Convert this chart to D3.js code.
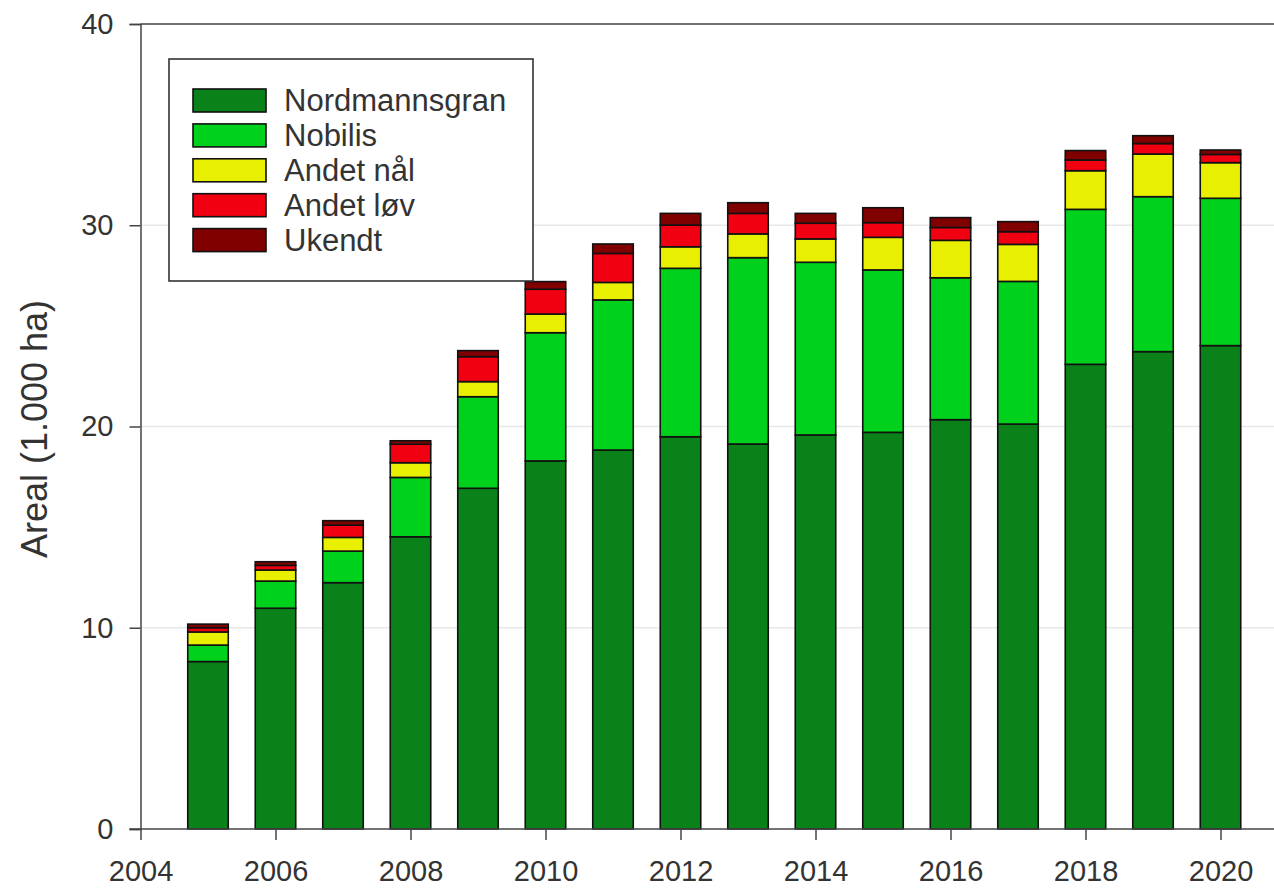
<!DOCTYPE html>
<html>
<head>
<meta charset="utf-8">
<script src="https://cdn.jsdelivr.net/npm/d3@7"></script>
<style>
  html, body { margin: 0; padding: 0; background: #fff; }
  svg { display: block; }
  text { font-family: "Liberation Sans", Arial, sans-serif; fill: #333; }
</style>
</head>
<body>
<svg id="chart" width="1274" height="890"></svg>
<script>
// ---- data ----
const years = [2005, 2006, 2007, 2008, 2009, 2010, 2011, 2012, 2013, 2014, 2015, 2016, 2017, 2018, 2019, 2020];
const seriesNames = ["Nordmannsgran", "Nobilis", "Andet nål", "Andet løv", "Ukendt"];
const nordmannsgran = [8.32, 10.97, 12.24, 14.52, 16.93, 18.29, 18.83, 19.49, 19.13, 19.58, 19.71, 20.34, 20.12, 23.09, 23.72, 24.02];
const nobilis       = [0.82, 1.35, 1.57, 2.95, 4.55, 6.37, 7.46, 8.37, 9.26, 8.58, 8.07, 7.05, 7.09, 7.70, 7.70, 7.32];
const andetNaal     = [0.65, 0.55, 0.68, 0.73, 0.75, 0.93, 0.87, 1.07, 1.18, 1.16, 1.62, 1.86, 1.84, 1.92, 2.12, 1.77];
const andetLoev     = [0.21, 0.23, 0.61, 0.92, 1.24, 1.23, 1.44, 1.08, 1.02, 0.78, 0.73, 0.64, 0.63, 0.53, 0.52, 0.41];
const ukendt        = [0.18, 0.18, 0.22, 0.17, 0.30, 0.38, 0.47, 0.58, 0.53, 0.49, 0.74, 0.49, 0.50, 0.47, 0.39, 0.22];
const xTicks = [2004, 2006, 2008, 2010, 2012, 2014, 2016, 2018, 2020];
const yTicks = [0, 10, 20, 30, 40];
const colors = ["#0b8219", "#00d11c", "#e9ef00", "#f00010", "#800000"];

// ---- build table ----
const seriesValues = [nordmannsgran, nobilis, andetNaal, andetLoev, ukendt];
const table = years.map((y, i) => {
  const row = { year: y };
  seriesNames.forEach((n, k) => row[n] = seriesValues[k][i]);
  return row;
});
const stacked = d3.stack().keys(seriesNames)(table);

const svg = d3.select("#chart");
const x = d3.scaleLinear().domain([2004, 2021]).range([140.5, 140.5 + 17 * 67.5]);
const y = d3.scaleLinear().domain([0, 40]).range([829, 24]);
const barW = (x(2005) - x(2004)) * 0.6;

// gridlines
svg.append("g").selectAll("line").data([10, 20, 30]).join("line")
  .attr("x1", x(2004)).attr("x2", 1274)
  .attr("y1", d => y(d)).attr("y2", d => y(d))
  .attr("stroke", "#e8e8e8").attr("stroke-width", 1.5);

// top frame line
svg.append("line")
  .attr("x1", x(2004)).attr("x2", 1274)
  .attr("y1", y(40)).attr("y2", y(40))
  .attr("stroke", "#444").attr("stroke-width", 1.5);

// bars
svg.append("g").selectAll("g").data(stacked).join("g")
  .attr("fill", (d, i) => colors[i])
  .selectAll("rect").data(d => d).join("rect")
  .attr("x", d => x(d.data.year) - barW / 2)
  .attr("width", barW)
  .attr("y", d => y(d[1]))
  .attr("height", d => y(d[0]) - y(d[1]))
  .attr("stroke", "#111").attr("stroke-width", 1.6);

// axes
const xAxis = d3.axisBottom(x).tickValues(xTicks).tickFormat(d3.format("d")).tickSizeOuter(0).tickSize(11).tickPadding(20);
const gx = svg.append("g").attr("transform", `translate(0,${y(0)})`).call(xAxis);
gx.select(".domain").attr("d", `M${x(2004) - 11},0H1290`);
gx.selectAll("path,line").attr("stroke", "#444").attr("stroke-width", 1.5);
gx.selectAll("text").style("font-size", "29px").attr("fill", "#333");

const yAxis = d3.axisLeft(y).tickValues(yTicks).tickSizeOuter(0).tickSize(11).tickPadding(16);
const gy = svg.append("g").attr("transform", `translate(${x(2004)},0)`).call(yAxis);
gy.selectAll("path,line").attr("stroke", "#444").attr("stroke-width", 1.5);
gy.selectAll("text").style("font-size", "29px").attr("fill", "#333");

// y label
svg.append("text")
  .attr("transform", `translate(34,429) rotate(-90)`)
  .attr("text-anchor", "middle").attr("dominant-baseline", "central")
  .style("font-size", "36px")
  .text("Areal (1.000 ha)");

// legend
const lg = svg.append("g");
lg.append("rect").attr("x", 169).attr("y", 59).attr("width", 364).attr("height", 222)
  .attr("fill", "#fff").attr("stroke", "#333").attr("stroke-width", 1.6);
const items = lg.selectAll("g.item").data(seriesNames).join("g").attr("class", "item")
  .attr("transform", (d, i) => `translate(0,${100.5 + i * 34.9})`);
items.append("rect").attr("x", 193).attr("y", -11.5).attr("width", 73).attr("height", 23)
  .attr("fill", (d, i) => colors[i]).attr("stroke", "#111").attr("stroke-width", 1.6);
items.append("text").attr("x", 284).attr("y", 0).attr("dominant-baseline", "central")
  .style("font-size", "31px").text(d => d);
</script>
</body>
</html>
